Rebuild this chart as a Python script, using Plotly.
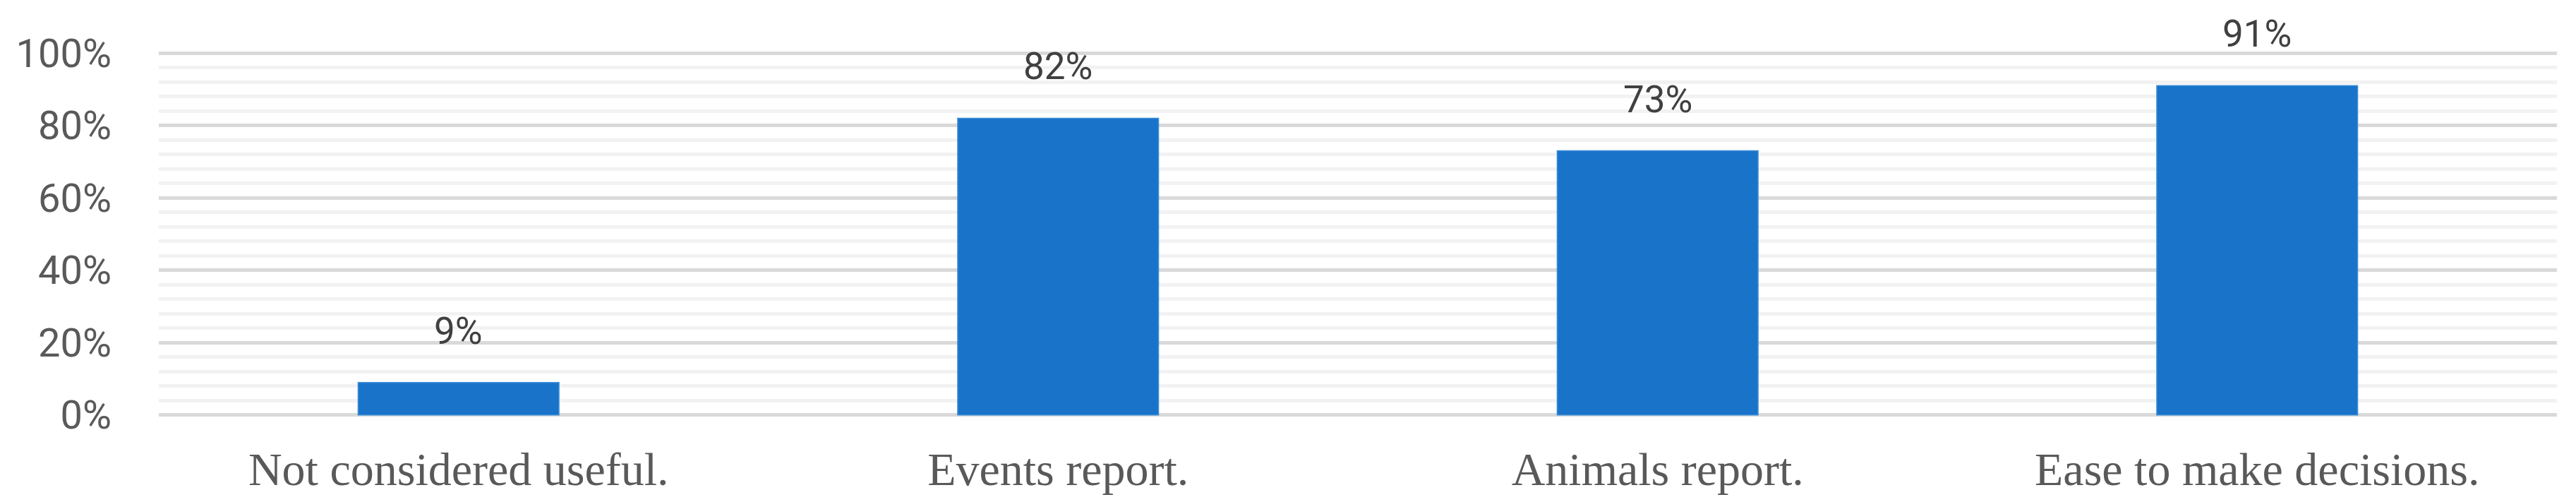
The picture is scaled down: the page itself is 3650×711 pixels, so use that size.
import plotly.graph_objects as go

categories = ["Not considered useful.", "Events report.", "Animals report.", "Ease to make decisions."]
values = [0.09, 0.82, 0.73, 0.91]
labels = ["9%", "82%", "73%", "91%"]

fig = go.Figure()
fig.add_trace(go.Bar(
    x=categories, y=values,
    marker=dict(color="#1873C9", line=dict(width=1.5, color="#3F8FDA")),
    hoverinfo="skip",
))

for c, v, t in zip(categories, values, labels):
    fig.add_annotation(x=c, y=v, text=t, showarrow=False, yanchor="bottom",
                       yshift=40, font=dict(family="Roboto", size=53, color="#404040"))

fig.update_layout(
    width=3650, height=711,
    margin=dict(l=217, r=35, t=62, b=126),
    paper_bgcolor="white", plot_bgcolor="white",
    bargap=0.665, showlegend=False,
    xaxis=dict(
        range=[-0.5, 3.5], showgrid=False, zeroline=False, showline=False,
        tickfont=dict(family="Liberation Serif", size=66, color="#595959"),
        ticks="", ticklabelstandoff=27,
    ),
    yaxis=dict(
        range=[-0.01, 1.01], tickvals=[0, 0.2, 0.4, 0.6, 0.8, 1.0], tickformat=".0%",
        showgrid=True, gridcolor="#D9D9D9", gridwidth=5,
        minor=dict(tickvals=[0.04, 0.08, 0.12, 0.16, 0.24, 0.28, 0.32, 0.36,
                             0.44, 0.48, 0.52, 0.56, 0.64, 0.68, 0.72, 0.76,
                             0.84, 0.88, 0.92, 0.96],
                   showgrid=True, gridcolor="#F2F2F2", gridwidth=5),
        zeroline=False, showline=False, ticks="",
        tickfont=dict(family="Roboto", size=56, color="#595959"),
        ticklabelstandoff=66,
    ),
)

fig.write_html("out.html")
